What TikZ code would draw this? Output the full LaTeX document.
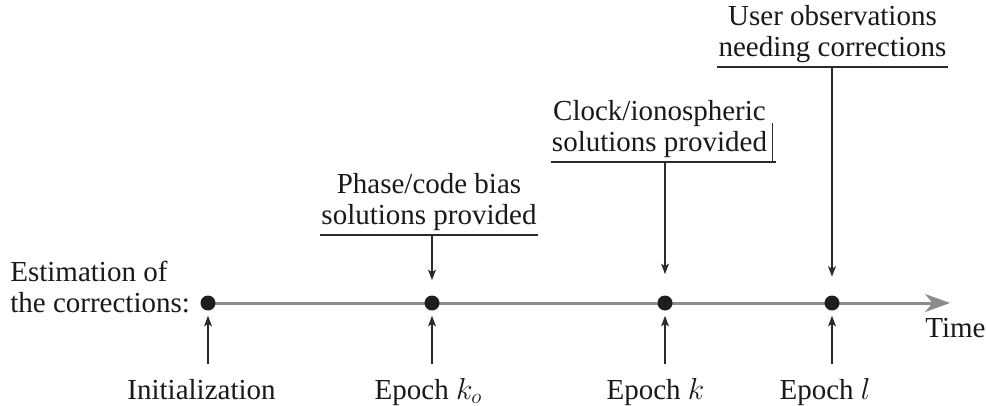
\documentclass[tikz,border=0pt]{standalone}
\usepackage{fontspec}
\setmainfont{Liberation Serif}
\usetikzlibrary{arrows.meta}
\definecolor{timeAxis}{HTML}{8C8C8C}
\definecolor{epochDot}{HTML}{1E1E1E}
\definecolor{pointerLine}{HTML}{2B2B2B}

\begin{document}
\begin{tikzpicture}[
        every node/.style={font=\fontsize{16.5}{17.3}\selectfont, text=black!90},
        epochdot/.style={circle, fill=epochDot, inner sep=0pt, minimum size=0.3cm},
        epochlabel/.style={anchor=base, inner ysep=8pt, text height=11.5pt, text depth=3.5pt},
        solution/.style={anchor=south, align=center, inner xsep=0.5pt, inner ysep=2.5pt},
        pointer/.style={draw=pointerLine, line width=0.8pt, -{Stealth[length=6pt,width=4.5pt,inset=1.5pt]}},
        underline/.style={draw=pointerLine, line width=0.8pt}
    ]
            \useasboundingbox (0,0) rectangle (19.72,8.1);
            \coordinate (tstart) at (4.16,2.04);
            \coordinate (tend) at (19.0,2.04);
            \draw[timeAxis, line width=1.7pt, -{Stealth[length=0.5cm,width=0.36cm,inset=0.15cm]}] (tstart) -- (tend);

            \node[epochdot] (init) at (tstart) {};
            \node[epochdot] (ko) at (8.64,2.04) {};
            \node[epochdot] (k) at (13.30,2.04) {};
            \node[epochdot] (l) at (16.64,2.04) {};

            \node[anchor=base west, align=left, inner sep=0pt] (est) at (0.2,1.86) {Estimation of\\the corrections:};
            \node[anchor=base west, inner sep=0pt] (time) at (18.5,1.36) {Time};

            \node[epochlabel] (initlbl) at (4.03,0.12) {Initialization};
            \node[epochlabel] (kolbl) at (8.57,0.12) {Epoch $k_o$};
            \node[epochlabel] (klbl) at (13.11,0.12) {Epoch $k$};
            \node[epochlabel] (llbl) at (16.50,0.12) {Epoch $l$};

            \node[solution] (phase) at (8.58,3.40) {Phase/code bias\\solutions provided};
            \node[solution] (clock) at (13.19,4.86) {Clock/ionospheric\\solutions provided};
            \node[solution] (user) at (16.65,6.76) {User observations\\needing corrections};

            \draw[underline] (phase.south west) -- (phase.south east);
            \draw[underline] (clock.south west) -- ([xshift=0.16cm]clock.south east);
            \draw[underline] ([xshift=0.08cm]clock.south east) -- ++(0,0.78);
            \draw[underline] (user.south west) -- (user.south east);

            \draw[pointer, shorten >=0.3cm] (phase.south -| ko) -- (ko);
            \draw[pointer, shorten >=0.42cm] (clock.south -| k) -- (k);
            \draw[pointer, shorten >=0.37cm] (user.south -| l) -- (l);

            \draw[pointer, shorten >=0.1cm] (initlbl.north -| init) -- (init);
            \draw[pointer, shorten >=0.1cm] (kolbl.north -| ko) -- (ko);
            \draw[pointer, shorten >=0.1cm] (klbl.north -| k) -- (k);
            \draw[pointer, shorten >=0.1cm] (llbl.north -| l) -- (l);
\end{tikzpicture}
\end{document}
